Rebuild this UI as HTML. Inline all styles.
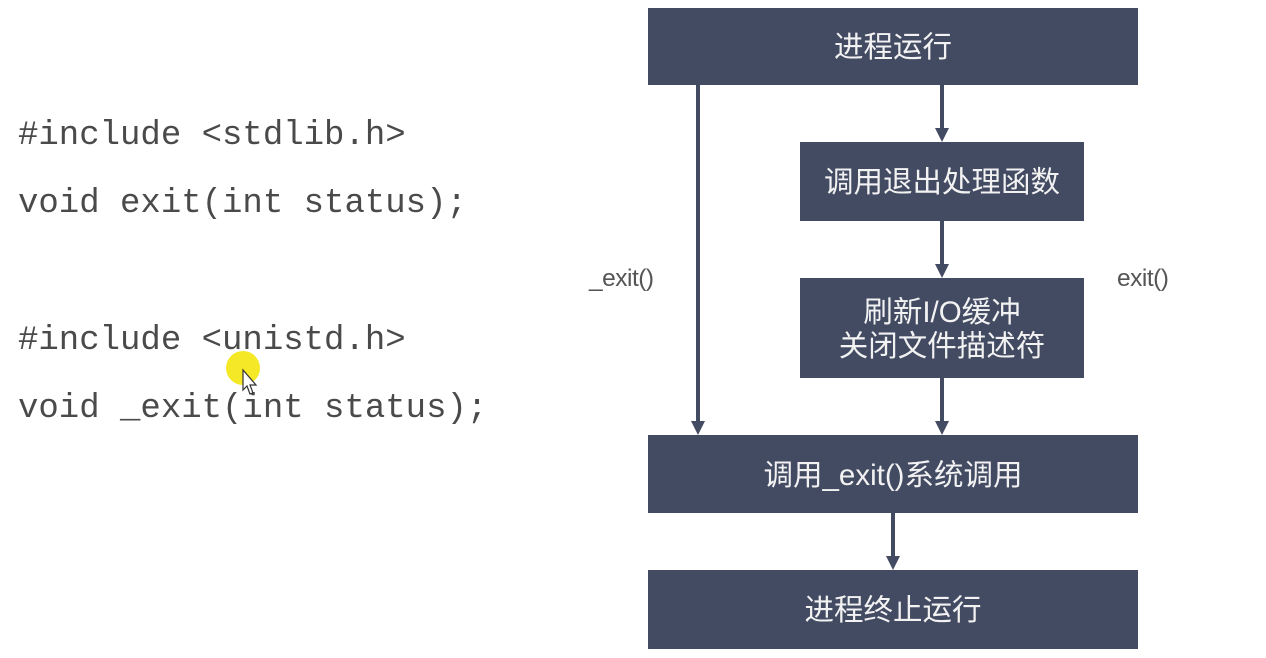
<!DOCTYPE html>
<html>
<head>
<meta charset="utf-8">
<style>
  html,body{margin:0;padding:0;background:#fff;}
  body{width:1266px;height:658px;position:relative;overflow:hidden;}
  .code{position:absolute;left:18px;font-family:"Liberation Mono","Noto Sans CJK SC",monospace;font-size:34px;color:#4a4a4a;white-space:pre;line-height:1;}
  .box{position:absolute;box-sizing:border-box;padding-top:3px;background:#434b63;color:#f2f2f2;font-family:"Liberation Sans","Noto Sans CJK SC",sans-serif;font-size:29.5px;display:flex;align-items:center;justify-content:center;text-align:center;line-height:34px;}
  .lbl{position:absolute;font-family:"Liberation Sans","Noto Sans CJK SC",sans-serif;font-size:24.5px;color:#555;letter-spacing:-0.5px;}
</style>
</head>
<body>
<div class="code" style="top:119px;">#include &lt;stdlib.h&gt;</div>
<div class="code" style="top:187px;">void exit(int status);</div>
<div class="code" style="top:324px;">#include &lt;unistd.h&gt;</div>
<div class="code" style="top:392px;">void _exit(int status);</div>

<svg style="position:absolute;left:0;top:0" width="1266" height="658">
  <circle cx="243" cy="368" r="17" fill="#f3e400" opacity="0.85"/>
  <path d="M243,370 L243,390 L247,386 L250,394 L253,393 L250,385 L256,385 Z" fill="#fff" stroke="#333" stroke-width="1.2"/>
  <g stroke="#434b63" stroke-width="4" fill="none">
    <line x1="698" y1="85" x2="698" y2="423"/>
    <line x1="942" y1="85" x2="942" y2="130"/>
    <line x1="942" y1="221" x2="942" y2="266"/>
    <line x1="942" y1="378" x2="942" y2="423"/>
    <line x1="893" y1="513" x2="893" y2="558"/>
  </g>
  <g fill="#434b63">
    <polygon points="691,421 705,421 698,435"/>
    <polygon points="935,128 949,128 942,142"/>
    <polygon points="935,264 949,264 942,278"/>
    <polygon points="935,421 949,421 942,435"/>
    <polygon points="886,556 900,556 893,570"/>
  </g>
</svg>

<div class="box" style="left:648px;top:8px;width:490px;height:77px;">进程运行</div>
<div class="box" style="left:800px;top:142px;width:284px;height:79px;">调用退出处理函数</div>
<div class="box" style="left:800px;top:278px;width:284px;height:100px;">刷新I/O缓冲<br>关闭文件描述符</div>
<div class="box" style="left:648px;top:435px;width:490px;height:78px;">调用_exit()系统调用</div>
<div class="box" style="left:648px;top:570px;width:490px;height:79px;">进程终止运行</div>

<div class="lbl" style="left:589px;top:265px;">_exit()</div>
<div class="lbl" style="left:1117px;top:265px;">exit()</div>
</body>
</html>
